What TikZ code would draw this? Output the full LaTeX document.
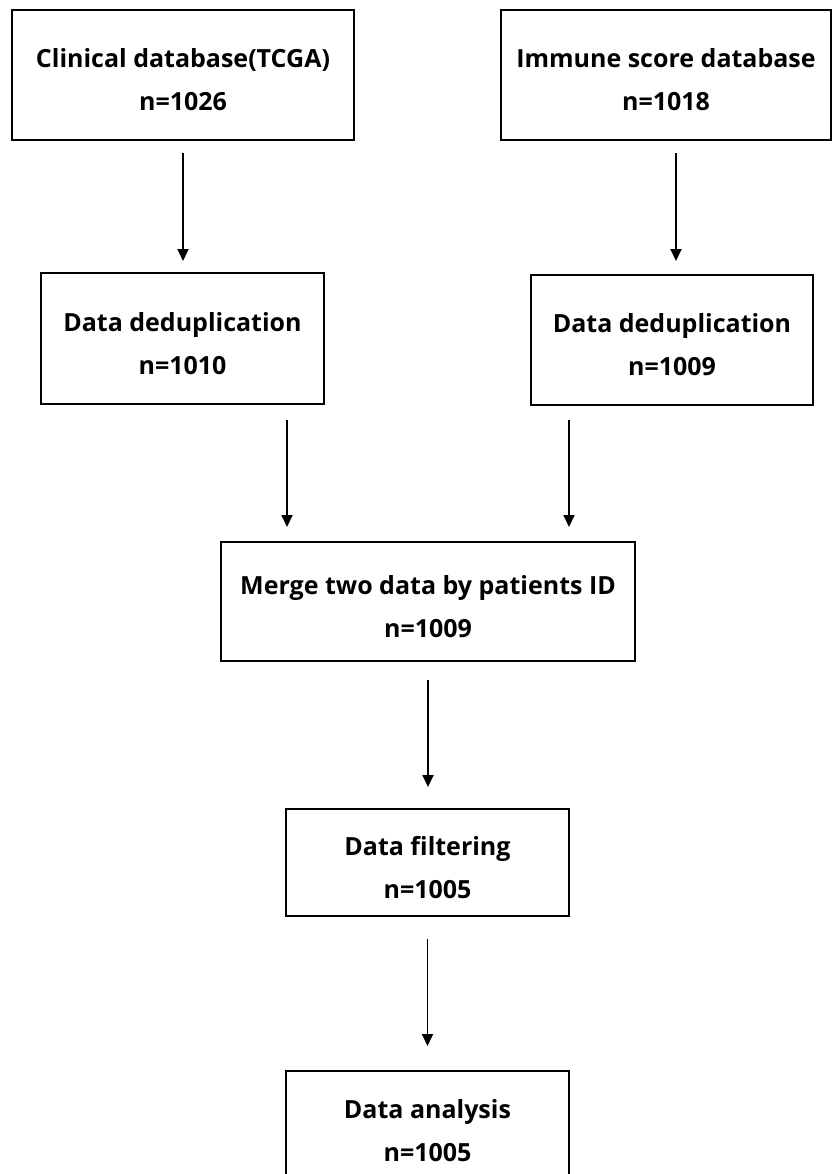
\documentclass[tikz,border=0pt]{standalone}
\usepackage{fontspec}
\setmainfont{Open Sans}
\usetikzlibrary{arrows.meta}
\newcommand{\topstrut}{\rule{0pt}{29pt}}
\begin{document}
\begin{tikzpicture}[x=1pt,y=-1pt,
  box/.style={draw, line width=2pt, align=center, inner sep=0pt,
    font=\fontsize{25}{43}\selectfont\bfseries},
  arr/.style={line width=1.8pt, -{Triangle[width=11pt,length=12pt]}}]
\useasboundingbox (0,0) rectangle (832,1174);
\fill[white] (0,0) rectangle (832,1174);
\node[box, minimum width=342pt, minimum height=130pt] (b1) at (183,75) {\topstrut Clinical database(TCGA)\\n=1026};
\node[box, minimum width=330pt, minimum height=130pt] (b2) at (666,75) {\topstrut Immune score database\\n=1018};
\node[box, minimum width=283pt, minimum height=131pt] (b3) at (182.5,338.5) {\topstrut Data deduplication\\n=1010};
\node[box, minimum width=282pt, minimum height=130pt] (b4) at (672,340) {\topstrut Data deduplication\\n=1009};
\node[box, minimum width=414pt, minimum height=119pt] (b5) at (428,601.5) {\topstrut Merge two data by patients ID\\n=1009};
\node[box, minimum width=283pt, minimum height=107pt] (b6) at (427.5,862.5) {\topstrut Data filtering\\n=1005};
\node[box, minimum width=283pt, minimum height=110pt] (b7) at (427.5,1126) {\topstrut Data analysis\\n=1005};
\coordinate (xa) at (287,0);
\coordinate (xb) at (569,0);
\coordinate (xc) at (676,0);
\draw[arr, shorten <=12pt, shorten >=11pt] (b1.south) -- (b1.south |- b3.north);
\draw[arr, shorten <=12pt, shorten >=13pt] (b2.south -| xc) -- (b4.north -| xc);
\draw[arr, shorten <=15pt, shorten >=14pt] (b3.south -| xa) -- (b5.north -| xa);
\draw[arr, shorten <=14pt, shorten >=14pt] (b4.south -| xb) -- (b5.north -| xb);
\draw[arr, shorten <=18pt, shorten >=21pt] (b5.south) -- (b5.south |- b6.north);
\draw[arr, shorten <=22pt, shorten >=24pt] (b6.south) -- (b6.south |- b7.north);
\end{tikzpicture}
\end{document}
